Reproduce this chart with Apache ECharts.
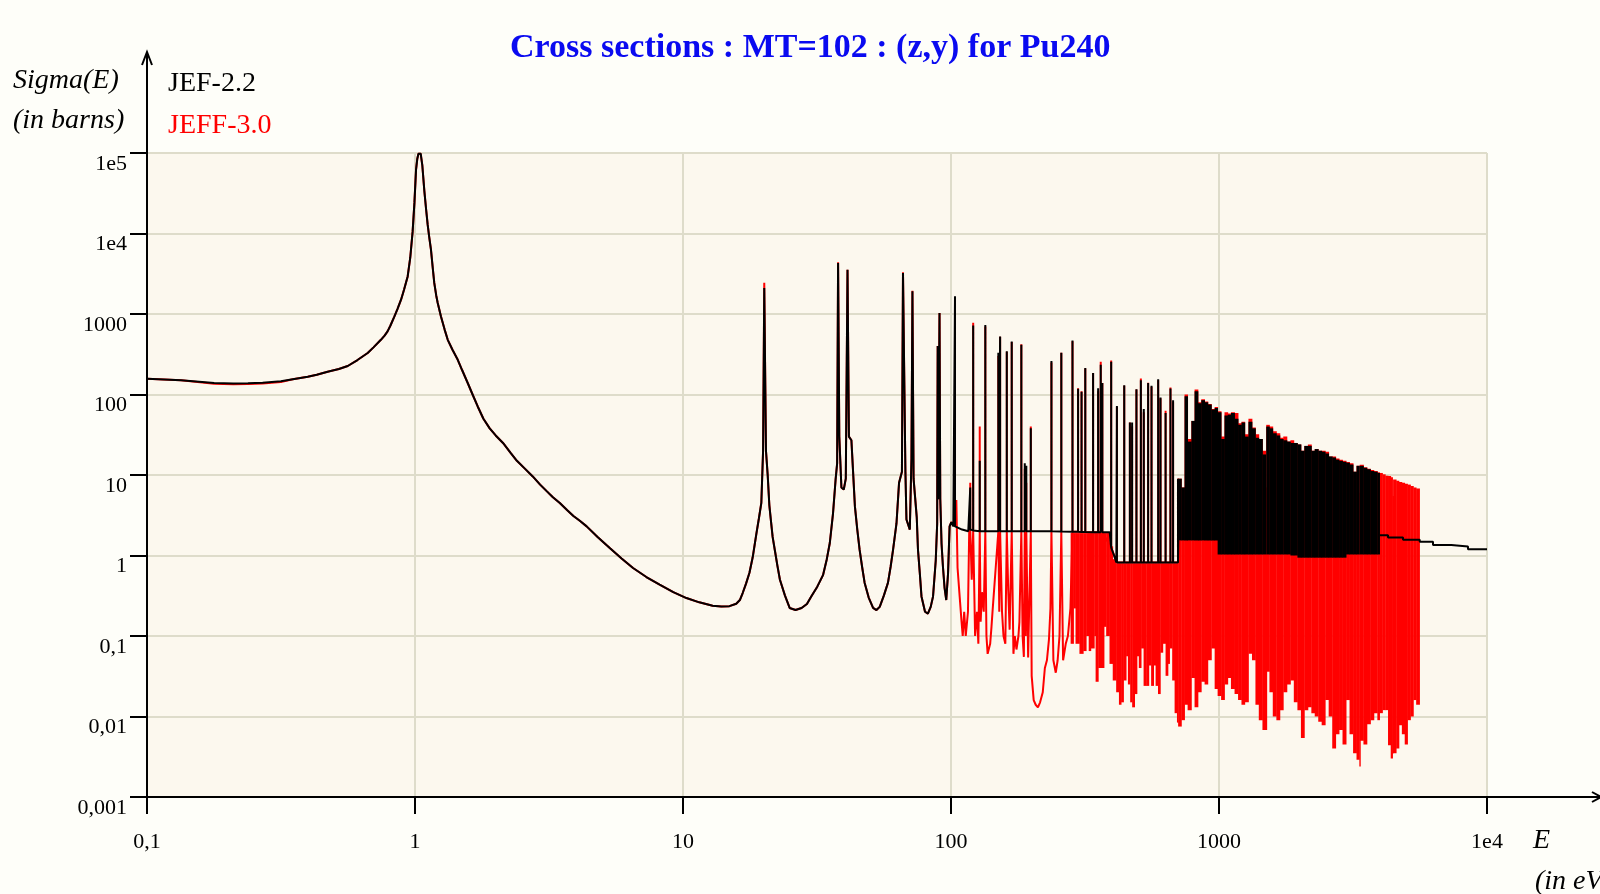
<!DOCTYPE html>
<html>
<head>
<meta charset="utf-8">
<script src="https://cdn.jsdelivr.net/npm/echarts@6/dist/echarts.min.js"></script>
<style>
html,body{margin:0;padding:0;background:#FEFEF9;}
#c{width:1600px;height:894px;}
</style>
</head>
<body>
<div id="c"></div>
<script>
// ---------- tick labels ----------
const xTickLabels = ['0,1', '1', '10', '100', '1000', '1e4'];
const yTickLabels = ['0,001', '0,01', '0,1', '1', '10', '100', '1000', '1e4', '1e5'];

// ---------- resolved range, 0.1 - 100 eV : [energy eV, sigma barns] ----------
const jef22Low = [[0.1,157],[0.134,150],[0.178,139],[0.21,137],[0.238,138],[0.27,140],[0.316,146],[0.35,155],[0.398,166],[0.43,176],[0.472,192],[0.52,207],[0.561,226],[0.61,268],[0.666,328],[0.70,385],[0.746,478],[0.77,540],[0.79,608],[0.81,720],[0.838,933],[0.86,1150],[0.887,1506],[0.91,2000],[0.939,2930],[0.96,5000],[0.98,10620],[0.995,24000],[1.009,62000],[1.02,85000],[1.03,98000],[1.05,98000],[1.065,70000],[1.084,33300],[1.1,20000],[1.115,12860],[1.13,9000],[1.147,6300],[1.165,3700],[1.18,2430],[1.2,1700],[1.215,1380],[1.25,933],[1.29,640],[1.325,478],[1.38,360],[1.444,270],[1.5,200],[1.573,139],[1.64,100],[1.714,71],[1.8,50],[1.9,38],[2.0,31],[2.13,25],[2.27,19],[2.4,15],[2.57,12],[2.75,9.6],[2.93,7.6],[3.1,6.3],[3.27,5.3],[3.47,4.49],[3.7,3.65],[3.9,3.1],[4.12,2.7],[4.37,2.3],[4.8,1.7],[5.33,1.24],[5.9,0.92],[6.51,0.70],[7.3,0.54],[8.18,0.434],[9.2,0.35],[10.3,0.296],[11.5,0.262],[12.9,0.238],[13.9,0.232],[14.9,0.235],[15.8,0.252],[16.3,0.28],[16.7,0.342],[17.2,0.45],[17.7,0.61],[18.2,0.95],[18.8,1.9],[19.2,2.9],[19.6,4.5],[19.9,20],[20.1,2100],[20.4,20],[20.7,10],[21.0,4.2],[21.3,2.65],[21.6,1.7],[22,1.18],[22.5,0.75],[23,0.5],[24,0.32],[25,0.223],[26.3,0.21],[27.7,0.223],[29,0.25],[30.1,0.31],[31.7,0.41],[33.3,0.57],[34.4,0.9],[35.3,1.43],[36.3,3.37],[37.1,8.74],[37.6,14],[37.9,4300],[38.3,30],[39,7],[39.8,6.6],[40.5,9],[41.1,3550],[41.6,30],[42.5,27],[43.8,4.07],[44.7,2.1],[45.6,1.18],[46.6,0.72],[47.6,0.46],[49.3,0.3],[51.2,0.223],[52.7,0.21],[54.2,0.23],[56.2,0.32],[58.2,0.46],[59.5,0.72],[60.8,1.18],[62.6,2.5],[64,8],[65.6,11],[66.2,3230],[67.6,10.9],[68.2,2.8],[70.2,2.1],[71.2,16],[71.8,1910],[72.5,9],[73.7,8.7],[74.5,3],[75.3,1.18],[76.5,0.6],[77.6,0.31],[80,0.2],[82,0.19],[84,0.23],[85.7,0.31],[87.7,0.86],[88.8,2.5],[89.2,400],[89.6,5],[90.6,1030],[91.2,5],[92.2,1.4],[93.3,0.73],[94.6,0.4],[96,0.28],[97.5,0.6],[98.8,2.3],[100.3,2.6]];
const jeff30Low = [[0.1,157],[0.134,150],[0.178,136],[0.21,134],[0.238,135],[0.27,137],[0.316,143],[0.35,155],[0.398,166],[0.43,176],[0.472,192],[0.52,207],[0.561,226],[0.61,268],[0.666,328],[0.70,385],[0.746,478],[0.77,540],[0.79,608],[0.81,720],[0.838,933],[0.86,1150],[0.887,1506],[0.91,2000],[0.939,2930],[0.96,5000],[0.98,10620],[0.995,24000],[1.009,62000],[1.02,85000],[1.03,98000],[1.05,98000],[1.065,70000],[1.084,33300],[1.1,20000],[1.115,12860],[1.13,9000],[1.147,6300],[1.165,3700],[1.18,2430],[1.2,1700],[1.215,1380],[1.25,933],[1.29,640],[1.325,478],[1.38,360],[1.444,270],[1.5,200],[1.573,139],[1.64,100],[1.714,71],[1.8,50],[1.9,38],[2.0,31],[2.13,25],[2.27,19],[2.4,15],[2.57,12],[2.75,9.6],[2.93,7.6],[3.1,6.3],[3.27,5.3],[3.47,4.49],[3.7,3.65],[3.9,3.1],[4.12,2.7],[4.37,2.3],[4.8,1.7],[5.33,1.24],[5.9,0.92],[6.51,0.70],[7.3,0.54],[8.18,0.434],[9.2,0.35],[10.3,0.296],[11.5,0.262],[12.9,0.238],[13.9,0.232],[14.9,0.235],[15.8,0.252],[16.3,0.28],[16.7,0.342],[17.2,0.45],[17.7,0.61],[18.2,0.95],[18.8,1.9],[19.2,2.9],[19.6,4.5],[19.9,20],[20.1,2450],[20.4,20],[20.7,10],[21.0,4.2],[21.3,2.65],[21.6,1.7],[22,1.18],[22.5,0.75],[23,0.5],[24,0.32],[25,0.223],[26.3,0.21],[27.7,0.223],[29,0.25],[30.1,0.31],[31.7,0.41],[33.3,0.57],[34.4,0.9],[35.3,1.43],[36.3,3.37],[37.1,8.74],[37.6,14],[37.9,4400],[38.3,30],[39,7],[39.8,6.6],[40.5,9],[41.1,3550],[41.6,30],[42.5,27],[43.8,4.07],[44.7,2.1],[45.6,1.18],[46.6,0.72],[47.6,0.46],[49.3,0.3],[51.2,0.223],[52.7,0.21],[54.2,0.23],[56.2,0.32],[58.2,0.46],[59.5,0.72],[60.8,1.18],[62.6,2.5],[64,8],[65.6,11],[66.2,3300],[67.6,10.9],[68.2,2.8],[70.2,2.1],[71.2,16],[71.8,1950],[72.5,9],[73.7,8.7],[74.5,3],[75.3,1.18],[76.5,0.6],[77.6,0.31],[80,0.2],[82,0.19],[84,0.23],[85.7,0.31],[87.7,0.86],[88.8,2.5],[89.2,400],[89.6,5],[90.6,1030],[91.2,5],[92.2,1.4],[93.3,0.73],[94.6,0.4],[96,0.28],[97.5,0.6],[98.8,2.3],[100.3,2.6]];

// ---------- resonances 100 - 705 eV ----------
const resE       = [103.5, 118, 121, 128, 134.3, 150.2, 152.5, 161.5, 168.5, 183, 188.5, 191, 198.5, 237, 258, 284, 298, 307, 317, 339, 354, 362, 367, 396, 416, 443, 465, 474, 492, 511, 524, 544, 560, 593, 605, 632, 659, 674, 703];
const jef22Peak  = [1660, 7, 720, 15, 730, 330, 525, 345, 455, 415, 14, 13, 38, 260, 330, 470, 118, 108, 213, 185, 120, 235, 139, 255, 72, 130, 45, 45, 116, 150, 66, 139, 128, 155, 92, 59, 119, 85, 9];
const jeff30Peak = [1500, 8, 780, 40, 700, 300, 520, 340, 450, 420, 12, 8, 40, 250, 330, 460, 120, 110, 210, 185, 110, 255, 139, 265, 70, 128, 45, 40, 115, 158, 60, 140, 125, 150, 90, 63, 122, 80, 9];
const resBase    = [2.3, 2.1, 2.05, 2.0, 2.0, 2.0, 2.0, 2.0, 2.0, 2.0, 2.0, 2.0, 2.0, 2.0, 1.98, 1.97, 1.97, 1.96, 1.96, 1.95, 1.95, 1.95, 1.95, 1.25, 0.82, 0.82, 0.82, 0.82, 0.82, 0.82, 0.82, 0.82, 0.82, 0.82, 0.82, 0.82, 0.82, 0.82, 0.82];

// JEF-2.2 smooth background between resonances
const jef22BaseE = [102, 110, 116, 200, 300, 391, 400, 406, 414, 600, 703.5, 705];
const jef22BaseS = [2.3, 2.1, 2.0, 2.0, 1.97, 1.94, 1.3, 1.0, 0.82, 0.82, 0.82, 1.54];

// JEFF-3.0 valleys between resonances (100 - 280 eV)
const jeff30DipE = [104.7, 105.8, 107.8, 109.5, 110.6, 112, 113.5, 115.7, 117, 119.5, 123, 125, 126.5, 129, 130.5, 132.5, 135.6, 137, 138.5, 140, 141.6, 143, 145, 151.4, 155, 157, 159.5, 163.5, 165.5, 171, 173, 175.5, 178.5, 180, 185, 187, 190, 194, 200, 203.5, 207, 211, 215, 220, 224, 228, 232, 235, 241, 246, 250, 254, 262, 268, 273, 279];
const jeff30DipS = [4.9, 0.7, 0.3, 0.15, 0.1, 0.2, 0.1, 0.2, 2.3, 0.5, 0.1, 0.2, 0.08, 0.15, 0.35, 0.2, 0.1, 0.06, 0.06, 0.08, 0.13, 0.21, 0.22, 0.2, 0.2, 0.1, 0.08, 0.37, 0.12, 0.06, 0.1, 0.068, 0.1, 0.15, 0.1, 0.055, 0.1, 0.054, 0.032, 0.016, 0.014, 0.013, 0.015, 0.02, 0.04, 0.05, 0.09, 0.22, 0.05, 0.035, 0.05, 0.1, 0.05, 0.08, 0.1, 0.22];

// ---------- dense region: [start energy, lowest sigma, highest sigma] ----------
const jef22Band = [
  [705, 1.54, 9], [725, 1.54, 7], [745, 1.54, 95], [765, 1.54, 26], [790, 1.54, 47], [812, 1.54, 110],
  [836, 1.54, 78], [860, 1.54, 85], [885, 1.54, 80], [910, 1.54, 75], [938, 1.54, 65], [965, 1.54, 68],
  [990, 1.03, 60], [1020, 1.03, 28], [1050, 1.03, 55], [1080, 1.03, 56], [1110, 1.03, 59], [1145, 1.03, 50],
  [1180, 1.03, 42], [1215, 1.03, 45], [1250, 1.03, 30], [1290, 1.03, 46], [1330, 1.03, 38], [1370, 1.03, 29],
  [1410, 1.03, 28], [1455, 1.03, 18], [1497, 1.03, 1.03], [1503, 1.03, 40], [1545, 1.03, 38], [1590, 1.03, 33],
  [1640, 1.03, 31], [1690, 1.03, 28], [1740, 1.03, 27], [1795, 1.03, 26], [1850, 1.0, 25], [1905, 1.0, 25],
  [1965, 0.94, 24], [2025, 0.94, 20], [2085, 0.94, 23], [2150, 0.94, 23], [2215, 0.94, 20], [2280, 0.94, 21],
  [2350, 0.94, 20], [2420, 0.94, 19.5], [2495, 0.94, 18.5], [2570, 0.94, 17], [2650, 0.94, 16.5], [2730, 0.94, 15.5],
  [2810, 0.94, 15], [2895, 0.94, 14.6], [2985, 1.03, 14.2], [3075, 1.03, 13.5], [3170, 1.03, 11], [3265, 1.03, 13],
  [3345, 1.03, 1.03], [3355, 1.03, 13], [3465, 1.03, 12.3], [3570, 1.03, 11.8], [3680, 1.03, 11.2], [3790, 1.03, 11],
  [3905, 1.03, 10.6]
];
const jef22BandEnd = 3980;

const jeff30Band = [
  [280, 0.08, 1.9], [287, 0.22, 1.9], [292, 0.08, 1.9], [302, 0.06, 1.9], [312, 0.065, 1.9], [320, 0.1, 1.9],
  [327, 0.065, 1.9], [333, 0.07, 1.9], [343, 0.1, 1.9], [347, 0.027, 1.9], [355, 0.04, 1.9], [373, 0.13, 1.9],
  [380, 0.1, 1.9], [391, 0.045, 1.3], [402, 0.028, 0.9], [414, 0.02, 0.8], [424, 0.014, 0.8], [432, 0.015, 0.8],
  [441, 0.028, 0.8], [451, 0.056, 0.8], [458, 0.025, 0.8], [467, 0.015, 0.8], [475, 0.013, 0.8], [485, 0.019, 0.8],
  [495, 0.056, 0.8], [503, 0.04, 0.8], [513, 0.07, 0.8], [524, 0.024, 0.8], [536, 0.024, 0.8], [548, 0.043, 0.8],
  [559, 0.024, 0.8], [571, 0.043, 0.8], [581, 0.024, 0.8], [593, 0.019, 0.8], [605, 0.062, 0.8], [618, 0.08, 0.8],
  [633, 0.032, 0.8], [646, 0.045, 0.8], [655, 0.07, 0.8], [670, 0.028, 0.8], [684, 0.011, 0.8], [698, 0.0084, 0.8],
  [705, 0.0075, 9], [725, 0.009, 7], [745, 0.014, 100], [765, 0.012, 28], [790, 0.03, 47], [812, 0.013, 115],
  [836, 0.02, 80], [860, 0.027, 87], [885, 0.025, 82], [910, 0.05, 76], [938, 0.07, 66], [965, 0.022, 70],
  [990, 0.018, 62], [1020, 0.016, 30], [1050, 0.025, 60], [1080, 0.03, 58], [1110, 0.022, 60], [1145, 0.019, 59],
  [1180, 0.016, 44], [1215, 0.014, 46], [1250, 0.015, 32], [1290, 0.06, 50], [1330, 0.05, 39], [1370, 0.014, 32],
  [1410, 0.009, 28], [1455, 0.0068, 20], [1497, 0.0068, 7], [1503, 0.036, 42], [1545, 0.02, 40], [1590, 0.01, 35],
  [1640, 0.009, 33], [1690, 0.012, 29], [1740, 0.02, 30], [1795, 0.025, 26], [1850, 0.028, 27], [1905, 0.015, 25],
  [1965, 0.012, 24], [2025, 0.0054, 20], [2085, 0.012, 23], [2150, 0.013, 24], [2215, 0.011, 20], [2280, 0.01, 21],
  [2350, 0.0086, 20], [2420, 0.0078, 20], [2495, 0.016, 19.5], [2570, 0.01, 17], [2650, 0.004, 17], [2730, 0.006, 16],
  [2810, 0.0068, 15.5], [2895, 0.0045, 15], [2985, 0.016, 14.5], [3075, 0.006, 14], [3170, 0.0035, 11], [3265, 0.0029, 13],
  [3345, 0.0024, 6], [3355, 0.005, 13.4], [3465, 0.0045, 12.5], [3570, 0.008, 12], [3680, 0.009, 11.5], [3790, 0.011, 11.2],
  [3905, 0.009, 10.8], [3980, 0.011, 10.6], [4080, 0.012, 10.2], [4180, 0.012, 9.8], [4280, 0.0044, 9.7], [4380, 0.003, 9.4],
  [4450, 0.0035, 5.5], [4470, 0.0035, 8.8], [4590, 0.004, 8.5], [4700, 0.0078, 8.2], [4820, 0.006, 8.0], [4940, 0.0045, 7.8],
  [5060, 0.009, 7.6], [5190, 0.01, 7.3], [5320, 0.016, 7.0], [5450, 0.014, 6.8]
];
const jeff30BandEnd = 5610;

// ---------- JEF-2.2 smooth tail above 3980 eV ----------
const jef22TailE = [3980, 4272, 4860, 5610, 6288, 7362, 8492, 10000];
const jef22TailS = [1.79, 1.67, 1.57, 1.48, 1.35, 1.29, 1.2, 1.2];

// ---------- builders ----------
function buildLine(lowPts, bE, bS, pE, pS, pB) {
  const pts = [];
  lowPts.forEach(p => pts.push({e: p[0], k: 0, v: [p]}));
  bE.forEach((e, i) => pts.push({e, k: 1, v: [[e, bS[i]]]}));
  pE.forEach((e, i) => pts.push({e, k: 2, v: [[e, pB[i]], [e, pS[i]], [e, pB[i]]]}));
  pts.sort((a, b) => a.e - b.e || a.k - b.k);
  return pts.flatMap(p => p.v);
}
function bandData(rows, endE) {
  return rows.map((r, i) => [r[0], i + 1 < rows.length ? rows[i + 1][0] : endE, r[1], r[2]])
             .filter(d => d[3] > d[2]);
}
function bandSeries(name, rows, endE, color) {
  return {
    type: 'custom', name, data: bandData(rows, endE), encode: {x: [0, 1], y: [2, 3]},
    clip: true, silent: true, itemStyle: {color},
    renderItem: (params, api) => {
      const a = api.coord([api.value(0), api.value(3)]);
      const b = api.coord([api.value(1), api.value(2)]);
      return {type: 'rect', shape: {x: a[0] - 0.2, y: a[1], width: Math.max(b[0] - a[0], 1) + 0.4, height: b[1] - a[1]},
              style: {fill: color}};
    }
  };
}
function lineSeries(name, data, color, extra) {
  return Object.assign({
    type: 'line', name, data, symbol: 'none', showSymbol: false, clip: true, silent: true,
    itemStyle: {color}, lineStyle: {color, width: 2, join: 'bevel', cap: 'butt'}
  }, extra || {});
}

const RED = '#FF0000', BLACK = '#000000';
const jeff30Line = buildLine(jeff30Low, jeff30DipE, jeff30DipS, resE, jeff30Peak, resBase);
const jef22Line = buildLine(jef22Low, jef22BaseE, jef22BaseS, resE, jef22Peak, resBase);
const jef22Tail = jef22TailE.map((e, i) => [e, jef22TailS[i]]);

const serif = 'Liberation Serif';
const chart = echarts.init(document.getElementById('c'), null, {renderer: 'canvas'});
const option = {
  animation: false,
  backgroundColor: '#FEFEF9',
  title: {
    text: 'Cross sections : MT=102 : (z,y) for Pu240',
    left: 505, top: 26,
    textStyle: {fontFamily: serif, fontWeight: 'bold', fontSize: 34, color: '#0A0AF0'}
  },
  legend: {
    orient: 'vertical', left: 158, top: 65, itemWidth: 0, itemHeight: 28, itemGap: 14,
    icon: 'rect', selectedMode: false,
    textStyle: {fontFamily: serif, fontSize: 28},
    data: [{name: 'JEF-2.2', textStyle: {color: '#000'}}, {name: 'JEFF-3.0', textStyle: {color: '#F00'}}]
  },
  grid: {left: 147, right: 113, top: 153, bottom: 97, show: true, backgroundColor: '#FCF8EE', borderWidth: 0},
  xAxis: {
    type: 'log', logBase: 10, min: 0.1, max: 10000, splitNumber: 5,
    axisLine: {show: false},
    axisTick: {show: true, length: 17, lineStyle: {color: '#000', width: 2}},
    axisLabel: {
      margin: 34, fontFamily: serif, fontSize: 22, color: '#000',
      formatter: v => xTickLabels[Math.round(Math.log10(v)) + 1]
    },
    splitLine: {show: true, lineStyle: {color: '#DEDCCA', width: 2}},
    minorTick: {show: false}, minorSplitLine: {show: false}
  },
  yAxis: {
    type: 'log', logBase: 10, min: 0.001, max: 100000, splitNumber: 8,
    axisLine: {show: false},
    axisTick: {show: true, length: 17, lineStyle: {color: '#000', width: 2}},
    axisLabel: {
      margin: 20, fontFamily: serif, fontSize: 22, color: '#000', verticalAlign: 'top',
      formatter: v => yTickLabels[Math.round(Math.log10(v)) + 3]
    },
    splitLine: {show: true, lineStyle: {color: '#DEDCCA', width: 2}}
  },
  series: [
    lineSeries('JEFF-3.0', jeff30Line, RED),
    bandSeries('JEFF-3.0', jeff30Band, jeff30BandEnd, RED),
    lineSeries('JEF-2.2', jef22Line, BLACK),
    bandSeries('JEF-2.2', jef22Band, jef22BandEnd, BLACK),
    lineSeries('JEF-2.2', jef22Tail, BLACK, {step: 'end'})
  ]
};
chart.setOption(option);

// axes with arrows, extending past the plot like the original
const o = chart.convertToPixel({gridIndex: 0}, [0.1, 0.001]);
const ox = Math.round(o[0]), oy = Math.round(o[1]);
const axisStyle = {stroke: '#000', lineWidth: 2};
const nameFont = 'italic 28px "Liberation Serif"';
chart.setOption({
  graphic: [
    {type: 'line', shape: {x1: ox, y1: oy, x2: ox, y2: 53}, style: axisStyle, z: 100},
    {type: 'polyline', shape: {points: [[ox - 5, 65], [ox, 52], [ox + 5, 65]]}, style: axisStyle, z: 100},
    {type: 'line', shape: {x1: ox - 1, y1: oy, x2: 1600, y2: oy}, style: axisStyle, z: 100},
    {type: 'polyline', shape: {points: [[1592, oy - 5], [1601, oy], [1592, oy + 5]]}, style: axisStyle, z: 100},
    {type: 'text', left: 13, top: 67, style: {text: 'Sigma(E)', font: nameFont, fill: '#000'}},
    {type: 'text', left: 13, top: 107, style: {text: '(in barns)', font: nameFont, fill: '#000'}},
    {type: 'text', left: 1533, top: 827, style: {text: 'E', font: nameFont, fill: '#000'}},
    {type: 'text', left: 1535, top: 868, style: {text: '(in eV)', font: nameFont, fill: '#000'}}
  ]
});
</script>
</body>
</html>
